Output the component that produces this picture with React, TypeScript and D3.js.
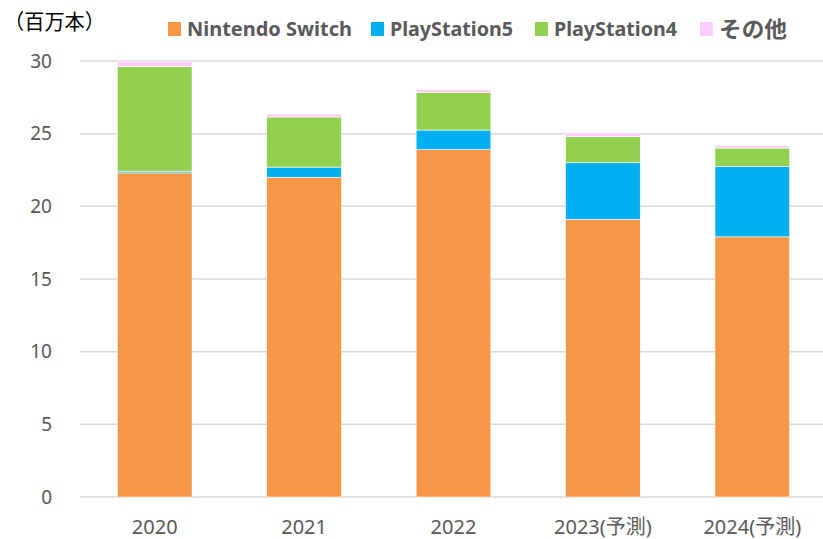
import React from "react";
import * as d3 from "d3";

const years = ["2020", "2021", "2022", "2023(予測)", "2024(予測)"];
const switchVals = [22.3, 22.0, 23.9, 19.1, 17.9];
const ps5Vals = [0.12, 0.7, 1.35, 3.9, 4.85];
const ps4Vals = [7.2, 3.45, 2.6, 1.8, 1.26];
const otherVals = [0.34, 0.2, 0.17, 0.25, 0.16];
const yTicks = [0, 5, 10, 15, 20, 25, 30];

const seriesKeys = ["Nintendo Switch", "PlayStation5", "PlayStation4", "その他"];
const colors = ["#F79646", "#00B0F0", "#92D050", "#FFCCFF"];
const legendX = [168, 371, 535, 700];
const legendTextLen = [165, 123, 123, 68];
const legendFontSize = [20, 20, 20, 22];

export default function App() {
  const W = 823, H = 539;
  const margin = { left: 80, right: -4, top: 61, bottom: 42 };
  const rows = years.map((y, i) => ({
    year: y,
    "Nintendo Switch": switchVals[i],
    PlayStation5: ps5Vals[i],
    PlayStation4: ps4Vals[i],
    "その他": otherVals[i],
  }));
  const stacked = d3.stack<any>().keys(seriesKeys)(rows);
  const x = d3.scaleBand().domain(years).range([margin.left, W - margin.right]).paddingInner(0.5).paddingOuter(0.25);
  const y = d3.scaleLinear().domain([0, 30]).range([H - margin.bottom, margin.top]);
  const font = "'Noto Sans', 'Noto Sans CJK JP', sans-serif";
  const textColor = "#595959";

  return (
    <svg width={W} height={H} style={{ position: "absolute", left: 0, top: 0, background: "#fff" }} fontFamily={font}>
      {yTicks.map((t) => (
        <g key={t}>
          <line x1={margin.left} x2={W} y1={y(t)} y2={y(t)} stroke="#d9d9d9" strokeWidth={1.5} />
          <text x={52} y={y(t)} dy="0.35em" textAnchor="end" fontSize={19} fill={textColor}>{t}</text>
        </g>
      ))}
      {stacked.map((s, si) => (
        <g key={s.key}>
          {s.map((d, i) => (
            <rect key={i} x={x(years[i])!} width={x.bandwidth()} y={y(d[1])} height={Math.max(0, y(d[0]) - y(d[1]))}
              fill={colors[si]} stroke="#ffffff" strokeWidth={0.6} />
          ))}
        </g>
      ))}
      {years.map((yr) => (
        <text key={yr} x={x(yr)! + x.bandwidth() / 2} y={527} dy="0.35em" textAnchor="middle" fontSize={20} fill={textColor}>{yr}</text>
      ))}
      <text x={4} y={22} dy="0.35em" fontSize={21} fill="#000" textLength={101} lengthAdjust="spacingAndGlyphs">（百万本）</text>
      {seriesKeys.map((k, i) => (
        <g key={k}>
          <rect x={legendX[i]} y={22} width={13} height={14} fill={colors[i]} />
          <text x={legendX[i] + 19} y={29} dy="0.35em" fontSize={legendFontSize[i]} fontWeight="bold" fill={textColor}
            textLength={legendTextLen[i]} lengthAdjust="spacingAndGlyphs">{k}</text>
        </g>
      ))}
    </svg>
  );
}
